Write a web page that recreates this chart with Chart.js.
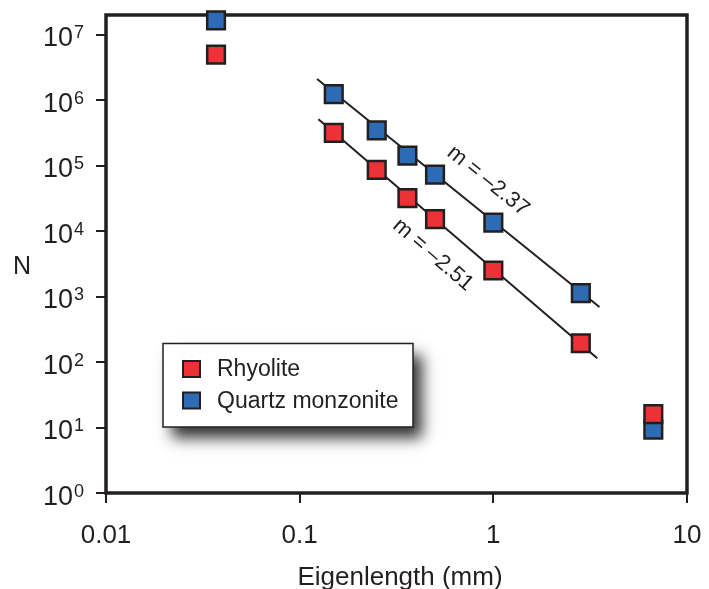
<!DOCTYPE html>
<html>
<head>
<meta charset="utf-8">
<script src="https://cdn.jsdelivr.net/npm/chart.js@4"></script>
<style>
  html, body { margin: 0; padding: 0; background: #fff; }
  canvas { display: block; }
</style>
</head>
<body>
<canvas id="chart" width="709" height="589"></canvas>
<script>
// ── DATA ─────────────────────────────────────────────────────────
const eigenlength = [0.037, 0.15, 0.25, 0.36, 0.5, 1, 2.83, 6.7];
const rhyoliteN   = [4.97e6, 3.17e5, 8.6e4, 3.2e4, 1.52e4, 2.5e3, 194, 16];
const quartzN     = [1.66e7, 1.24e6, 3.46e5, 1.42e5, 7.3e4, 1.35e4, 1.13e3, 9.3];

const rhyoliteFitX = [0.125, 3.44];
const rhyoliteFitN = [5.1e5, 114];
const quartzFitX   = [0.123, 3.53];
const quartzFitN   = [2.1e6, 695];

const seriesNames = ['Rhyolite', 'Quartz monzonite'];
const slopeLabels = ['m = \u20132.51', 'm = \u20132.37'];

const xTicks = [0.01, 0.1, 1, 10];
const yTicks = [1, 10, 100, 1e3, 1e4, 1e5, 1e6, 1e7];

const RED = '#ec3237';
const BLUE = '#2d6cb5';
const INK = '#231f20';
const FONT = "'Liberation Sans', Arial, sans-serif";

const pts = (xs, ys) => xs.map((x, i) => ({ x: x, y: ys[i] }));

// ── DECORATIONS: frame, superscript ticks, titles, notes, legend ──
const decor = {
    id: 'decor',
    beforeDatasetsDraw(chart) {
        const { ctx, chartArea: a } = chart;
        ctx.save();
        ctx.strokeStyle = INK;
        ctx.lineWidth = 3.5;
        ctx.strokeRect(a.left, a.top, a.right - a.left, a.bottom - a.top);
        ctx.restore();
    },
    afterDatasetsDraw(chart) {
        const { ctx, scales } = chart;
        const ys = scales.y;
        ctx.save();
        ctx.fillStyle = INK;

        // y tick labels 10^n
        yTicks.forEach(v => {
            const py = ys.getPixelForValue(v);
            const exp = Math.round(Math.log10(v));
            ctx.font = '27px ' + FONT;
            ctx.textAlign = 'left';
            ctx.textBaseline = 'alphabetic';
            const bx = 43;
            ctx.fillText('10', bx, py + 11.5);
            const w = ctx.measureText('10').width;
            ctx.font = '18px ' + FONT;
            ctx.fillText(String(exp), bx + w + 1, py + 3.5);
        });

        // axis titles
        ctx.font = '25px ' + FONT;
        ctx.textAlign = 'center';
        ctx.textBaseline = 'middle';
        ctx.fillText('N', 22, 267);
        ctx.font = '26px ' + FONT;
        ctx.textBaseline = 'alphabetic';
        ctx.fillText('Eigenlength (mm)', 400, 585);

        // slope annotations
        ctx.font = '22px ' + FONT;
        ctx.textBaseline = 'middle';
        [[433, 255, 41], [488, 181, 39]].forEach((p, i) => {
            ctx.save();
            ctx.translate(p[0], p[1]);
            ctx.rotate(p[2] * Math.PI / 180);
            ctx.fillText(slopeLabels[i], 0, 0);
            ctx.restore();
        });

        // legend with drop shadow
        const L = { x: 163, y: 343.5, w: 250, h: 83.5 };
        ctx.save();
        ctx.shadowColor = 'rgba(0,0,0,0.8)';
        ctx.shadowBlur = 14;
        ctx.shadowOffsetX = 9;
        ctx.shadowOffsetY = 11;
        ctx.fillStyle = '#fff';
        ctx.fillRect(L.x, L.y, L.w, L.h);
        ctx.restore();
        ctx.strokeStyle = INK;
        ctx.lineWidth = 1.5;
        ctx.strokeRect(L.x, L.y, L.w, L.h);

        chart.data.datasets.slice(0, 2).forEach((ds, i) => {
            const cy = 369 + i * 31.5;
            ctx.fillStyle = ds.backgroundColor;
            ctx.fillRect(183, cy - 8, 17, 16);
            ctx.strokeStyle = INK;
            ctx.lineWidth = 2;
            ctx.strokeRect(183, cy - 8, 17, 16);
            ctx.fillStyle = INK;
            ctx.font = '23px ' + FONT;
            ctx.textAlign = 'left';
            ctx.textBaseline = 'middle';
            ctx.fillText(ds.label, 217, cy + 1);
        });
        ctx.restore();
    }
};

const markerStyle = {
    pointStyle: 'rect',
    pointRadius: 12.5,
    pointHoverRadius: 12.5,
    borderColor: INK,
    borderWidth: 2.5,
    showLine: false,
    clip: false
};

const fitStyle = {
    type: 'line',
    borderColor: INK,
    borderWidth: 2,
    pointRadius: 0,
    showLine: true,
    fill: false
};

new Chart(document.getElementById('chart'), {
    type: 'scatter',
    data: {
        datasets: [
            { ...markerStyle, label: seriesNames[0], data: pts(eigenlength, rhyoliteN), backgroundColor: RED },
            { ...markerStyle, label: seriesNames[1], data: pts(eigenlength, quartzN), backgroundColor: BLUE },
            { ...fitStyle, label: 'fit r', data: pts(rhyoliteFitX, rhyoliteFitN) },
            { ...fitStyle, label: 'fit q', data: pts(quartzFitX, quartzFitN) }
        ]
    },
    options: {
        responsive: false,
        animation: false,
        layout: { padding: { top: 12.5, right: 22, left: 0, bottom: 0 } },
        plugins: {
            legend: { display: false },
            tooltip: { enabled: false }
        },
        scales: {
            x: {
                type: 'logarithmic',
                min: 0.01,
                max: 10,
                afterBuildTicks: s => { s.ticks = xTicks.map(v => ({ value: v })); },
                afterFit: s => { s.height = 96; s.paddingLeft = 0; s.paddingRight = 0; },
                border: { display: false },
                grid: { drawOnChartArea: false, drawTicks: true, tickLength: 10, lineWidth: 2, color: INK },
                ticks: {
                    autoSkip: false,
                    maxRotation: 0,
                    padding: 17,
                    color: INK,
                    font: { family: FONT, size: 26 },
                    callback: v => String(v)
                }
            },
            y: {
                type: 'logarithmic',
                min: 1,
                max: 2e7,
                afterBuildTicks: s => { s.ticks = yTicks.map(v => ({ value: v })); },
                afterFit: s => { s.width = 106; s.paddingTop = 0; s.paddingBottom = 0; },
                border: { display: false },
                grid: { drawOnChartArea: false, drawTicks: true, tickLength: 10, lineWidth: 2, color: INK },
                ticks: { autoSkip: false, callback: () => '' }
            }
        }
    },
    plugins: [decor]
});
</script>
</body>
</html>
